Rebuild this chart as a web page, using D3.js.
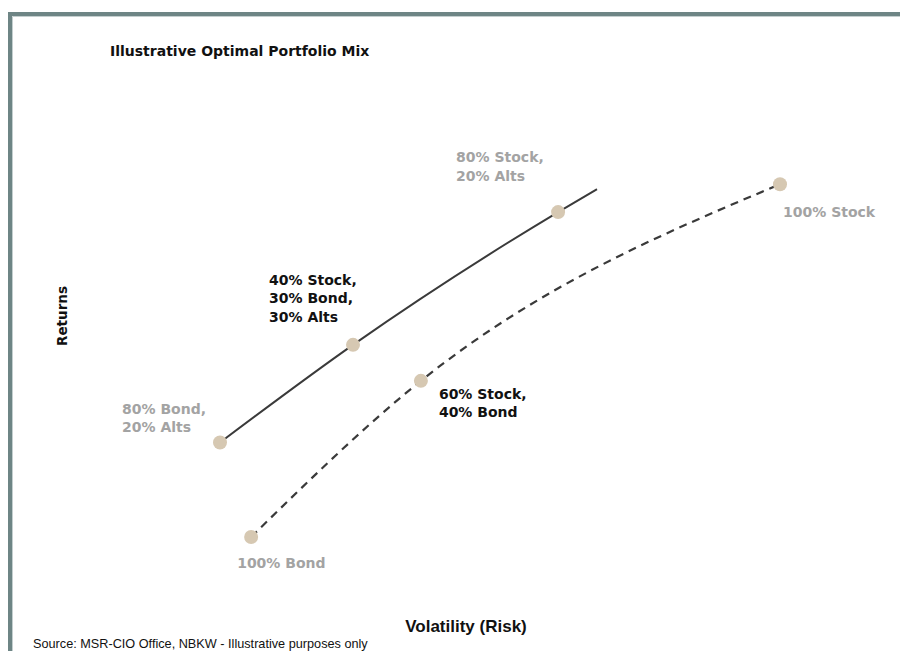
<!DOCTYPE html>
<html>
<head>
<meta charset="utf-8">
<script src="https://cdn.jsdelivr.net/npm/d3@7"></script>
<style>
  body { margin: 0; background: #fff; }
  svg { display: block; }
</style>
</head>
<body>
<script>
var width = 900
var height = 651

// volatility / returns in arbitrary units
var mixNames = ["80% Bond, 20% Alts", "40% Stock, 30% Bond, 30% Alts", "80% Stock, 20% Alts"]
var mixVol = [2.0, 5.8, 11.66]
var mixRet = [3.5, 5.67, 8.62]
var frontierEndVol = 12.77
var frontierEndRet = 9.13

var classicNames = ["100% Bond", "60% Stock, 40% Bond", "100% Stock"]
var classicVol = [2.89, 7.74, 18.0]
var classicRet = [1.4, 4.87, 9.24]

var x = d3.scaleLinear().domain([0, 20]).range([150, 850])
var y = d3.scaleLinear().domain([0, 10]).range([600, 150])

var svg = d3.select("body").append("svg")
            .attr("width", width)
            .attr("height", height)

// frame
svg.append("line").attr("x1", 8).attr("x2", width).attr("y1", 14).attr("y2", 14)
   .attr("stroke", "#6e8585").attr("stroke-width", 4)
svg.append("line").attr("x1", 10).attr("x2", 10).attr("y1", 12).attr("y2", height)
   .attr("stroke", "#6e8585").attr("stroke-width", 4)
svg.append("line").attr("x1", 12.5).attr("x2", width).attr("y1", 16.5).attr("y2", 16.5)
   .attr("stroke", "#c4cfcf").attr("stroke-width", 1)
svg.append("line").attr("x1", 12.5).attr("x2", 12.5).attr("y1", 16.5).attr("y2", height)
   .attr("stroke", "#c4cfcf").attr("stroke-width", 1)

svg.append("text").text("Illustrative Optimal Portfolio Mix")
   .attr("x", 110).attr("y", 56)
   .attr("font-family", "DejaVu Sans").attr("font-weight", "bold")
   .attr("font-size", "14px").attr("fill", "#111")

// lines
var mixPts = mixVol.map(function(v, i) { return [v, mixRet[i]] })
mixPts.push([frontierEndVol, frontierEndRet])
var classicPts = classicVol.map(function(v, i) { return [v, classicRet[i]] })

var line = d3.line()
             .x(function(d) { return x(d[0]) })
             .y(function(d) { return y(d[1]) })
             .curve(d3.curveMonotoneX)

svg.append("path").attr("d", line(mixPts))
   .attr("fill", "none").attr("stroke", "#3a3a3a").attr("stroke-width", 2)

svg.append("path").attr("d", line(classicPts))
   .attr("fill", "none").attr("stroke", "#3a3a3a").attr("stroke-width", 2.2)
   .attr("stroke-dasharray", "8,6")

// markers
var markers = mixPts.slice(0, 3).concat(classicPts)
svg.selectAll("circle.dot")
   .data(markers)
   .enter()
     .append("circle")
     .attr("class", "dot")
     .attr("cx", function(d) { return x(d[0]) })
     .attr("cy", function(d) { return y(d[1]) })
     .attr("r", 7)
     .attr("fill", "#d6c8b2")

// point labels: [name, vol, ret, dx, dy of first baseline, colour]
var labelSpecs = [
  [mixNames[0], mixVol[0], mixRet[0], -98, -29, "#a3a3a3"],
  [mixNames[1], mixVol[1], mixRet[1], -84, -60, "#111"],
  [mixNames[2], mixVol[2], mixRet[2], -102, -50, "#a3a3a3"],
  [classicNames[0], classicVol[0], classicRet[0], -14, 31, "#a3a3a3"],
  [classicNames[1], classicVol[1], classicRet[1], 18, 18, "#111"],
  [classicNames[2], classicVol[2], classicRet[2], 3, 33, "#a3a3a3"]
]

labelSpecs.forEach(function(s) {
  var parts = s[0].split(", ")
  var t = svg.append("text")
             .attr("font-family", "DejaVu Sans").attr("font-weight", "bold")
             .attr("font-size", "14px").attr("fill", s[5])
  parts.forEach(function(p, i) {
    t.append("tspan")
     .attr("x", x(s[1]) + s[3])
     .attr("y", y(s[2]) + s[4] + i * 18.5)
     .text(i < parts.length - 1 ? p + "," : p)
  })
})

// axis titles
svg.append("text").text("Returns")
   .attr("transform", "translate(67,316) rotate(-90)")
   .attr("text-anchor", "middle")
   .attr("font-family", "DejaVu Sans").attr("font-weight", "bold")
   .attr("font-size", "13.5px").attr("fill", "#111")

svg.append("text").text("Volatility (Risk)")
   .attr("x", 466).attr("y", 632)
   .attr("text-anchor", "middle")
   .attr("font-family", "Liberation Sans Narrow, Arial Narrow, sans-serif").attr("font-weight", "bold")
   .attr("font-size", "17px").attr("fill", "#111")

svg.append("text").text("Source: MSR-CIO Office, NBKW - Illustrative purposes only")
   .attr("x", 33).attr("y", 648)
   .attr("font-family", "Liberation Sans Narrow, Arial Narrow, sans-serif")
   .attr("font-size", "12.7px").attr("fill", "#111")
</script>
</body>
</html>
